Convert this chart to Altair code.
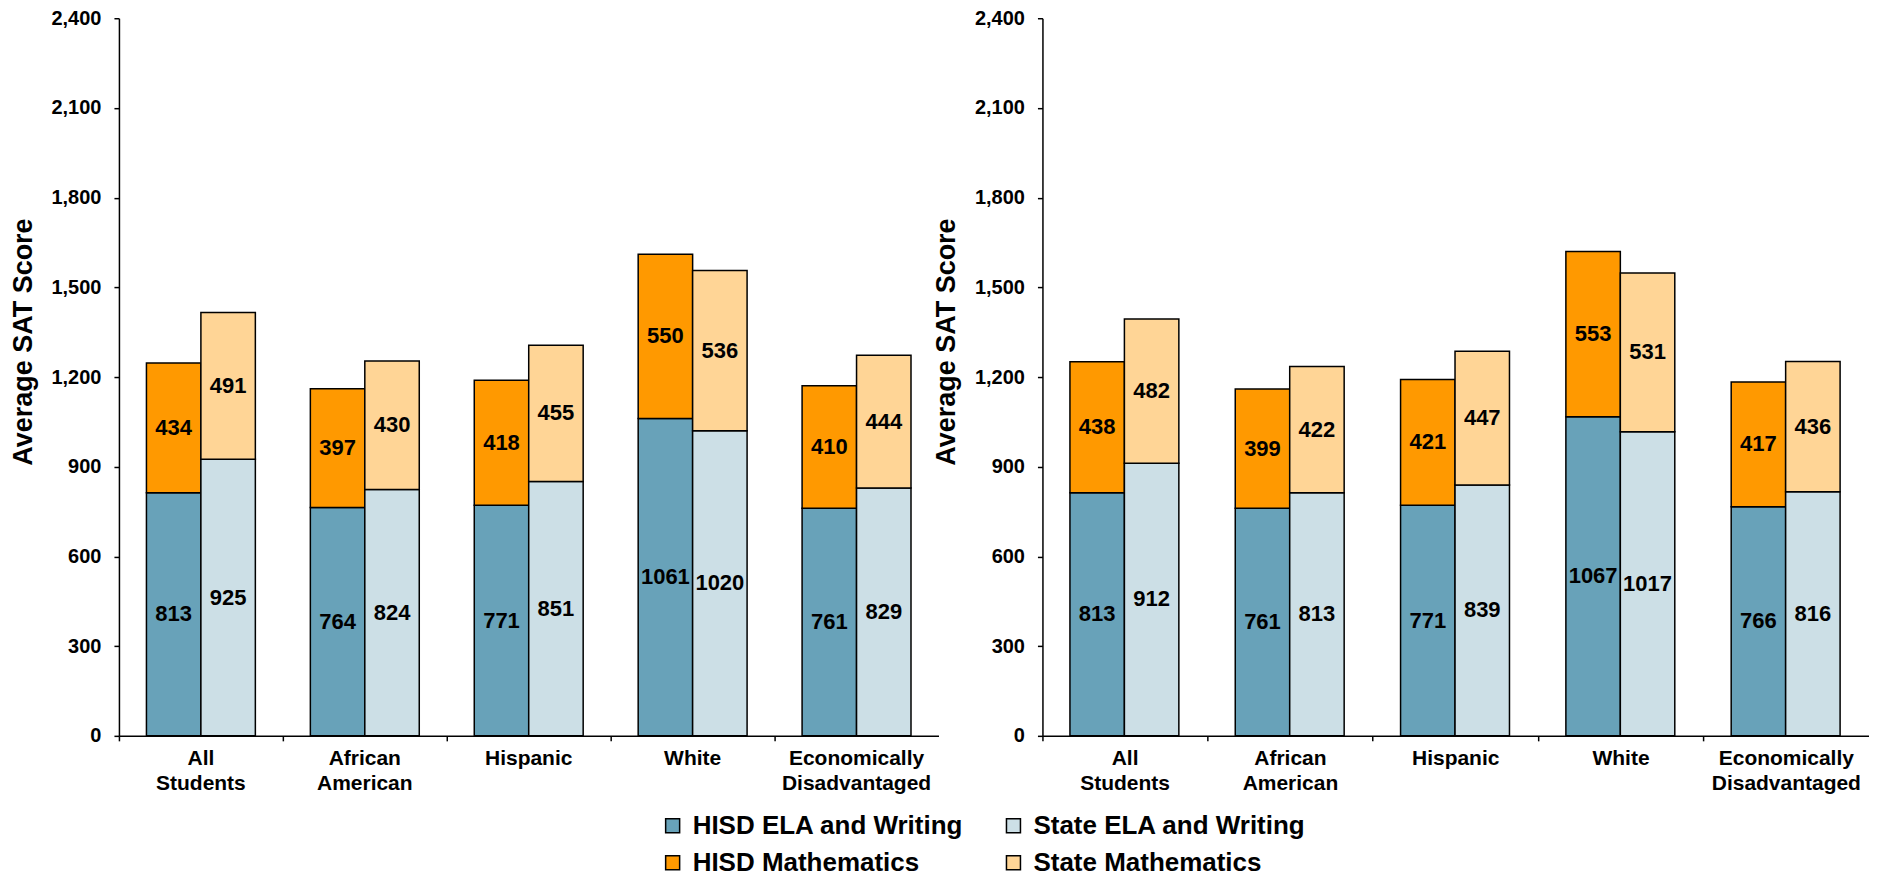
import altair as alt
import pandas as pd

categories = ["All Students", "African American", "Hispanic", "White", "Economically Disadvantaged"]
series_names = ["HISD ELA and Writing", "HISD Mathematics", "State ELA and Writing", "State Mathematics"]
series_colors = ["#68A2B9", "#FF9900", "#CCDFE6", "#FFD596"]
groups = ["HISD", "State"]

left_hisd_ela = [813, 764, 771, 1061, 761]
left_hisd_math = [434, 397, 418, 550, 410]
left_state_ela = [925, 824, 851, 1020, 829]
left_state_math = [491, 430, 455, 536, 444]

right_hisd_ela = [813, 761, 771, 1067, 766]
right_hisd_math = [438, 399, 421, 553, 417]
right_state_ela = [912, 813, 839, 1017, 816]
right_state_math = [482, 422, 447, 531, 436]

y_ticks = [0, 300, 600, 900, 1200, 1500, 1800, 2100, 2400]
y_title = "Average SAT Score"


def build(hisd_ela, hisd_math, state_ela, state_math):
    rows = []
    spec = [
        ("HISD ELA and Writing", "HISD", 0, hisd_ela),
        ("HISD Mathematics", "HISD", 1, hisd_math),
        ("State ELA and Writing", "State", 0, state_ela),
        ("State Mathematics", "State", 1, state_math),
    ]
    for name, grp, order, vals in spec:
        for cat, v in zip(categories, vals):
            rows.append({"category": cat, "group": grp, "series": name, "order": order, "value": v})
    return pd.DataFrame(rows)


def panel(df, width, height):
    base = alt.Chart(df).transform_stack(
        stack="value", groupby=["category", "group"], as_=["y0", "y1"],
        sort=[alt.SortField("order", order="ascending")],
    ).transform_calculate(mid="(datum.y0 + datum.y1) / 2")

    x = alt.X(
        "category:N", sort=categories,
        scale=alt.Scale(paddingInner=0, paddingOuter=0),
        axis=alt.Axis(
            title=None, labelAngle=0, bandPosition=0,
            labelExpr="split(datum.label, ' ')", labelFontSize=21, labelFontWeight="bold",
            labelLineHeight=25, labelPadding=7, tickSize=5, tickColor="black", tickWidth=1.5,
            domainColor="black", domainWidth=1.5, labelColor="black", labelLimit=400,
            labelOverlap=False,
        ),
    )
    xo = alt.XOffset("group:N", sort=groups, scale=alt.Scale(paddingOuter=0.505, paddingInner=0))
    yaxis = alt.Axis(
        values=y_ticks, format=",d", title=None, labelFontSize=20, labelFontWeight="bold",
        labelPadding=13, labelColor="black", tickSize=5, grid=False, domainColor="black",
        tickColor="black", domainWidth=1.5, tickWidth=1.5,
    )
    yscale = alt.Scale(domain=[0, 2400], nice=False)
    color = alt.Color(
        "series:N",
        scale=alt.Scale(domain=series_names, range=series_colors),
        legend=alt.Legend(
            orient="none", legendX=541, legendY=795, columns=2, title=None,
            symbolType="square", symbolSize=196, symbolStrokeColor="black", symbolStrokeWidth=1.5,
            symbolOpacity=1, labelFontSize=26, labelFontWeight="bold", labelOffset=7,
            labelLimit=600, rowPadding=11, columnPadding=36, padding=0, labelColor="black",
        ),
    )
    bars = base.mark_bar(stroke="black", strokeWidth=1.5).encode(
        x=x, xOffset=xo,
        y=alt.Y("y0:Q", scale=yscale, axis=yaxis),
        y2="y1:Q",
        color=color,
    )
    text = base.mark_text(fontSize=22, fontWeight="bold", color="black").encode(
        x=x, xOffset=xo,
        y=alt.Y("mid:Q", scale=yscale, axis=yaxis),
        text="value:Q",
    )
    ytitle = alt.Chart(pd.DataFrame({"t": [y_title]})).mark_text(
        angle=270, fontSize=27, fontWeight="bold", color="black", baseline="middle", align="center",
    ).encode(x=alt.value(-95), y=alt.value(324), text="t:N")
    return alt.layer(bars, text, ytitle).properties(width=width, height=height)


left_df = build(left_hisd_ela, left_hisd_math, left_state_ela, left_state_math)
right_df = build(right_hisd_ela, right_hisd_math, right_state_ela, right_state_math)

chart = alt.hconcat(
    panel(left_df, 820, 718),
    panel(right_df, 827, 718),
    spacing=104,
    bounds="flush",
).resolve_scale(color="shared").properties(
    padding={"left": 2, "top": 0, "right": 0, "bottom": 0},
    background="white",
).configure(font="Liberation Sans").configure_view(stroke=None)

chart.save("out.html", embed_options={"renderer": "svg", "actions": False})
